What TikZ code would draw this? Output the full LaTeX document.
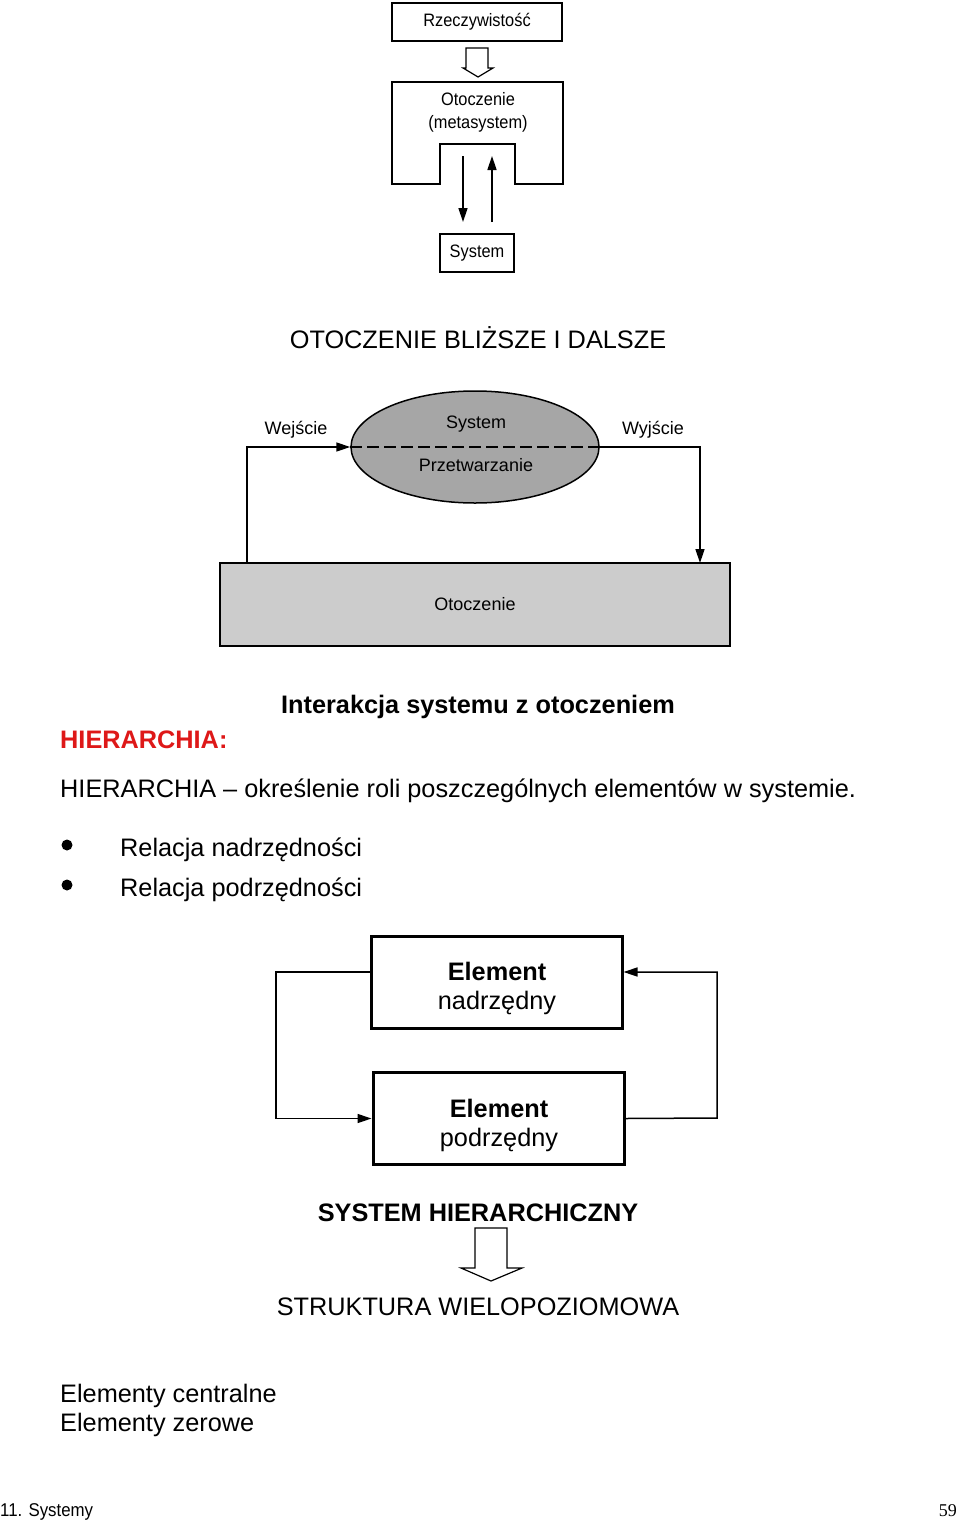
\documentclass[tikz,border=0pt]{standalone}
\usepackage{fontspec}
\setmainfont{Liberation Sans}
\newfontfamily\narrowfont[FakeStretch=0.91]{Liberation Sans}
\newfontfamily\pagefont{Liberation Serif}
\usepackage{xcolor}
\usetikzlibrary{arrows.meta}
\usetikzlibrary{shapes}
\definecolor{hierred}{RGB}{222,24,24}
\definecolor{sysgray}{RGB}{166,166,166}
\definecolor{envgray}{RGB}{204,204,204}

\begin{document}
\begin{tikzpicture}[x=1pt,y=-1pt,
  conn/.style={line width=1.5pt,-{Triangle[length=14pt,width=9pt]}},
  hollow/.style={draw,line width=1.2pt,fill=white,line join=miter},
  smalltxt/.style={font=\narrowfont\fontsize{18}{22}\selectfont,inner sep=0pt},
  labeltxt/.style={font=\fontsize{18}{22}\selectfont,inner sep=0pt},
  bigtxt/.style={font=\fontsize{25.3}{30}\selectfont,inner sep=0pt},
  boldtxt/.style={font=\bfseries\fontsize{25.3}{30}\selectfont,inner sep=0pt},
  thinbox/.style={draw,line width=1.5pt,smalltxt},
  elembox/.style={draw,line width=3pt,minimum width=251,minimum height=92}]
\useasboundingbox (0,0) rectangle (960,1523);

% Rzeczywistosc -> Otoczenie -> System:
\node[thinbox,minimum width=170,minimum height=38] (real) at (477,22) {Rzeczywistość};
\draw[hollow] (466,48) -- (488,48) -- (488,68) -- (493,68) -- (478,77)
  -- (463,68) -- (466,68) -- cycle;
\draw[line width=1.5pt] (392,82) -- (563,82) -- (563,184) -- (515,184) -- (515,144)
  -- (440,144) -- (440,184) -- (392,184) -- cycle;
\node[smalltxt,anchor=base] (meta1) at (478,105.5) {Otoczenie};
\node[smalltxt,anchor=base] (meta2) at (478,128.5) {(metasystem)};
\node[thinbox,minimum width=74,minimum height=38] (sys1) at (477,253) {System};
\coordinate (down top) at (463,156);
\coordinate (up top) at (492,156);
\draw[conn] (down top) -- (down top |- 0,222);
\draw[conn] (up top |- 0,222) -- (up top);

\node[bigtxt,anchor=base] (near far) at (478,348) {OTOCZENIE BLIŻSZE I DALSZE};

% System w otoczeniu:
\node[ellipse,draw,fill=sysgray,line width=1.5pt,minimum width=248,minimum height=112]
  (sys2) at (475,447) {};
\draw[line width=1.5pt,dash pattern=on 12pt off 5pt] (sys2.west) -- (sys2.east);
\node[labeltxt,anchor=base] (sys2 top) at (476,428.5) {System};
\node[labeltxt,anchor=base] (sys2 bottom) at (476,471) {Przetwarzanie};
\node[labeltxt,anchor=base] (input) at (296,434.5) {Wejście};
\node[labeltxt,anchor=base] (output) at (653,434.5) {Wyjście};
\node[draw,fill=envgray,line width=1.5pt,minimum width=510,minimum height=83,
  labeltxt] (env) at (475,604.5) {Otoczenie};
\coordinate (in foot) at (247,563);
\coordinate (out foot) at (700,563);
\draw[conn] (in foot) |- (sys2.west);
\draw[conn] (sys2.east) -| (out foot);

\node[boldtxt,anchor=base] (caption) at (478,713) {Interakcja systemu z otoczeniem};

% Hierarchia:
\node[boldtxt,anchor=base west,text=hierred] (hier head) at (60,748) {HIERARCHIA:};
\node[bigtxt,anchor=base west] (hier def) at (60,797)
  {HIERARCHIA – określenie roli poszczególnych elementów w systemie.};
\foreach \y/\t [count=\i] in {856/Relacja nadrzędności,896/Relacja podrzędności} {
  \fill (67,\y-11) circle (5.5);
  \node[bigtxt,anchor=base west] (rel\i) at (120,\y) {\t};
}

\node[elembox] (sup) at (496.5,982) {};
\node[elembox] (sub) at (498.5,1118.5) {};
\node[boldtxt,anchor=base] (sup1) at (497,980) {Element};
\node[bigtxt,anchor=base] (sup2) at (497,1009) {nadrzędny};
\node[boldtxt,anchor=base] (sub1) at (499,1117) {Element};
\node[bigtxt,anchor=base] (sub2) at (499,1146) {podrzędny};
\coordinate (left turn) at (276,972);
\coordinate (right turn) at (717,1118);
\draw[conn] (sup.west |- left turn) -- (left turn) |- (sub.west);
\draw[conn] (sub.east) -- (right turn) |- (sup.east |- left turn);

\node[boldtxt,anchor=base] (hier sys) at (478,1221) {SYSTEM HIERARCHICZNY};
\draw[hollow] (475,1228) -- (507,1228) -- (507,1268) -- (522,1268) -- (491,1281)
  -- (461,1268) -- (475,1268) -- cycle;
\node[bigtxt,anchor=base] (multi) at (478,1315) {STRUKTURA WIELOPOZIOMOWA};

\node[bigtxt,anchor=base west] (central) at (60,1402) {Elementy centralne};
\node[bigtxt,anchor=base west] (zero) at (60,1431) {Elementy zerowe};

% Fusszeile:
\node[anchor=base west,inner sep=0pt,font=\narrowfont\fontsize{18.5}{20}\selectfont]
  (chapter) at (0,1516) {11. Systemy};
\node[anchor=base east,inner sep=0pt,font=\pagefont\fontsize{18}{20}\selectfont]
  (page) at (957,1516) {59};
\end{tikzpicture}
\end{document}
